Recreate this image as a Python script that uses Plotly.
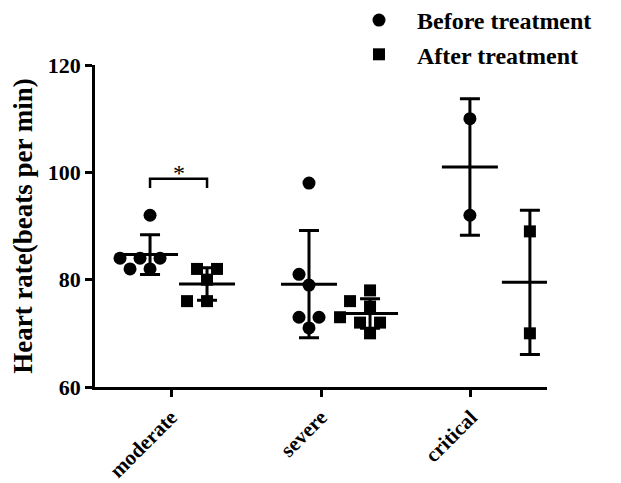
import numpy as np
import plotly.graph_objects as go

# ---------------- data ----------------
categories = ["moderate", "severe", "critical"]
before_moderate = [92, 84, 84, 84, 82, 82]
after_moderate = [82, 82, 80, 76, 76]
before_severe = [98, 81, 79, 73, 73, 71]
after_severe = [78, 76, 75, 73, 72, 72, 70]
before_critical = [110, 92]
after_critical = [89, 70]
y_ticks = [60, 80, 100, 120]
series_names = ["Before treatment", "After treatment"]
sig_label = "*"

before_groups = [before_moderate, before_severe, before_critical]
after_groups = [after_moderate, after_severe, after_critical]

# ---------------- layout constants ----------------
# page body has an 8px margin, so the figure is offset by 8px
FONT = "Liberation Serif, Times New Roman, serif"
W, H = 613, 475
M = dict(l=87, r=74, t=57, b=96, autoexpand=False)
XR = [-0.507, 2.507]
YR = [60, 120]
before_off = [-0.14, -0.08, -0.007]
after_off = [0.24, 0.327, 0.393]
tick_pos = [0, 1, 2]
plot_w = W - M["l"] - M["r"]
plot_h = H - M["t"] - M["b"]
px_x = plot_w / (XR[1] - XR[0])
px_y = plot_h / (YR[1] - YR[0])
DIAM = 12.0
STEP = 10.0


def swarm(vals, center):
    """Spread overlapping points sideways (pixel-space collision)."""
    order = sorted(range(len(vals)), key=lambda i: vals[i])
    placed = []
    xs = [0.0] * len(vals)
    cands = [0]
    for n in range(1, 10):
        cands += [-n, n]
    for i in order:
        yv = vals[i] * px_y
        for c in cands:
            xo = c * STEP
            if all((xo - px) ** 2 + (yv - py) ** 2 >= DIAM ** 2 for px, py in placed):
                placed.append((xo, yv))
                xs[i] = center + xo / px_x
                break
    return xs


fig = go.Figure()

for name, groups, offs, sym in [
    (series_names[0], before_groups, before_off, "circle"),
    (series_names[1], after_groups, after_off, "square"),
]:
    xs, ys = [], []
    for g, (vals, off) in enumerate(zip(groups, offs)):
        c = tick_pos[g] + off
        xs += swarm(vals, c)
        ys += list(vals)
    fig.add_trace(go.Scatter(
        x=xs, y=ys, mode="markers", name=name,
        legendgroup=name,
        marker=dict(symbol=sym, size=13 if sym == "circle" else 12, color="black",
                    line=dict(width=0)),
    ))

# mean +/- SD
for groups, offs in [(before_groups, before_off), (after_groups, after_off)]:
    cx = [tick_pos[g] + offs[g] for g in range(len(groups))]
    means = [float(np.mean(v)) for v in groups]
    sds = [float(np.std(v, ddof=1)) for v in groups]
    fig.add_trace(go.Scatter(
        x=cx, y=means, mode="markers", showlegend=False, hoverinfo="skip",
        marker=dict(symbol="line-ew-open", size=40, color="black",
                    line=dict(width=3, color="black")),
        error_y=dict(type="data", array=sds, visible=True, thickness=3,
                     width=10, color="black"),
    ))

# significance bracket on moderate group
bx0 = tick_pos[0] + before_off[0]
bx1 = tick_pos[0] + after_off[0]
fig.add_shape(type="path",
              path=f"M {bx0},97.1 L {bx0},98.8 L {bx1},98.8 L {bx1},97.1",
              xref="x", yref="y", line=dict(color="black", width=2.5))
fig.add_annotation(x=(bx0 + bx1) / 2, y=98.8, text=sig_label, showarrow=False,
                   xref="x", yref="y", yanchor="bottom", yshift=-9,
                   font=dict(family=FONT, size=24, color="black"))

fig.update_layout(
    width=W, height=H, margin=M,
    paper_bgcolor="white", plot_bgcolor="white",
    font=dict(family=FONT, color="black"),
    showlegend=True,
    legend=dict(x=(333 - M["l"]) / plot_w, xanchor="left",
                y=1 + (M["t"] + 10) / plot_h, yanchor="top",
                font=dict(family=FONT, size=24, color="black", weight="bold"),
                traceorder="grouped", tracegroupgap=0, itemwidth=66,
                bgcolor="rgba(0,0,0,0)"),
    xaxis=dict(range=XR, showgrid=False, zeroline=False, showline=True,
               linecolor="black", linewidth=2.5, ticks="outside", ticklen=7,
               tickwidth=2.5, tickcolor="black", tickvals=tick_pos,
               ticktext=categories, tickangle=-45,
               tickfont=dict(family=FONT, size=21, color="black", weight="bold")),
    yaxis=dict(range=YR, showgrid=False, zeroline=False, showline=True,
               linecolor="black", linewidth=2.5, ticks="outside", ticklen=7,
               tickwidth=2.5, tickcolor="black", tickvals=y_ticks,
               tickfont=dict(family=FONT, size=22, color="black", weight="bold"),
               title=dict(text="Heart rate(beats per min)", standoff=10,
                          font=dict(family=FONT, size=27, color="black", weight="bold"))),
)

fig.write_html("out.html")
